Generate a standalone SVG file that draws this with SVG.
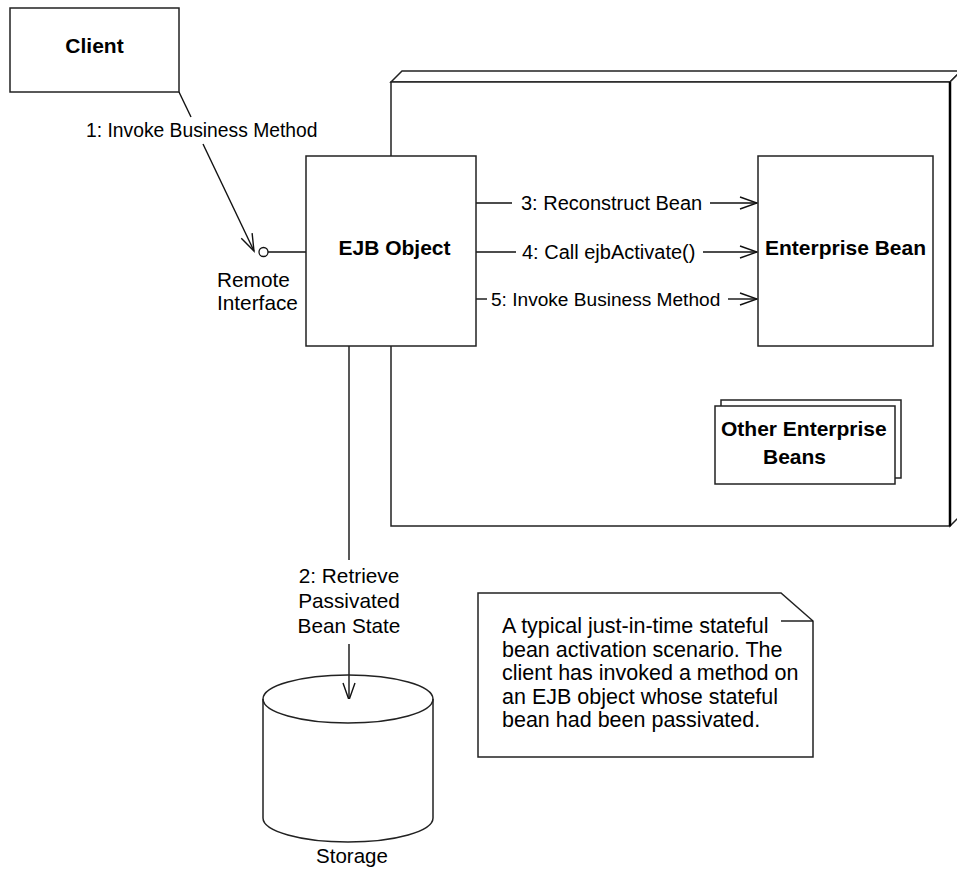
<svg xmlns="http://www.w3.org/2000/svg" width="957" height="869" viewBox="0 0 957 869">
<style>
.box{fill:#fff;stroke:#222;stroke-width:1.5}
.ln{fill:none;stroke:#111;stroke-width:1.4}
.b{font-family:"Liberation Sans",Arial,sans-serif;font-weight:bold;font-size:21px;fill:#000}
.t{font-family:"Liberation Sans",Arial,sans-serif;font-size:20px;fill:#000}
.n{font-family:"Liberation Sans",Arial,sans-serif;font-size:21.5px;fill:#000}
</style>
<defs>
<marker id="open" markerUnits="userSpaceOnUse" markerWidth="20" markerHeight="16" refX="18" refY="7" orient="auto">
<path d="M1,1 L18,7 L1,13" fill="none" stroke="#111" stroke-width="1.4"/>
</marker>
</defs>
<rect width="957" height="869" fill="#fff"/>

<g id="node-container">
<polygon class="box" points="391,82 402,71 961,71 950,82"/>
<polygon class="box" points="950,82 961,71 961,515 950,526"/>
<rect class="box" x="391" y="82" width="559" height="444"/>
<line x1="950" y1="82" x2="950" y2="526" stroke="#000" stroke-width="2.5"/>
</g>

<g id="node-client">
<rect class="box" x="10" y="8" width="169" height="84"/>
<text class="b" x="94.5" y="53" text-anchor="middle">Client</text>
</g>

<g id="connectors">
<polyline class="ln" points="179,92 191,117"/>
<line class="ln" x1="203" y1="144" x2="254" y2="251" marker-end="url(#open)"/>
<text class="t" x="86" y="137" style="font-size:19.3px">1: Invoke Business Method</text>
<line class="ln" x1="268" y1="252" x2="306" y2="252"/>
<circle cx="263.5" cy="252" r="4.5" fill="#fff" stroke="#111" stroke-width="1.3"/>
<text class="t" x="217" y="287" style="font-size:20.8px">Remote</text>
<text class="t" x="217" y="310" style="font-size:20.8px">Interface</text>

<line class="ln" x1="476" y1="203" x2="512" y2="203"/>
<text class="t" x="521" y="210">3: Reconstruct Bean</text>
<line class="ln" x1="710" y1="203" x2="757" y2="203" marker-end="url(#open)"/>

<line class="ln" x1="476" y1="252" x2="516" y2="252"/>
<text class="t" x="522" y="259">4: Call ejbActivate()</text>
<line class="ln" x1="703" y1="252" x2="757" y2="252" marker-end="url(#open)"/>

<line class="ln" x1="476" y1="299" x2="487" y2="299"/>
<text class="t" x="491" y="306" style="font-size:19.1px">5: Invoke Business Method</text>
<line class="ln" x1="728" y1="299" x2="757" y2="299" marker-end="url(#open)"/>

<line class="ln" x1="349" y1="346" x2="349" y2="560"/>
<text class="t" x="349" y="583" text-anchor="middle" style="font-size:20.8px">2: Retrieve</text>
<text class="t" x="349" y="608" text-anchor="middle" style="font-size:20.8px">Passivated</text>
<text class="t" x="349" y="633" text-anchor="middle" style="font-size:20.8px">Bean State</text>
<line class="ln" x1="349" y1="644" x2="349" y2="700" marker-end="url(#open)"/>
</g>

<g id="node-ejb-object">
<rect class="box" x="306" y="156" width="170" height="190"/>
<text class="b" x="394.5" y="255" text-anchor="middle">EJB Object</text>
</g>

<g id="node-enterprise-bean">
<rect class="box" x="758" y="156" width="175" height="190"/>
<text class="b" x="845.5" y="255" text-anchor="middle">Enterprise Bean</text>
</g>

<g id="node-other-beans">
<rect class="box" x="721" y="400" width="180" height="78"/>
<rect class="box" x="715" y="406" width="180" height="78"/>
<text class="b" x="721" y="436">Other Enterprise</text>
<text class="b" x="763" y="464">Beans</text>
</g>

<g id="node-storage">
<path class="box" d="M263,699 L263,818 A85,24 0 0 0 433,818 L433,699"/>
<ellipse class="box" cx="348" cy="699" rx="85" ry="24" fill="none" style="fill:none"/>
<text class="t" x="352" y="863" text-anchor="middle" style="font-size:20.5px">Storage</text>
</g>

<g id="node-note">
<path class="box" d="M478,593 L781,593 L813,621 L813,757 L478,757 Z"/>
<line class="ln" x1="781" y1="621" x2="813" y2="621"/>
<text class="n" x="502" y="633">A typical just-in-time stateful</text>
<text class="n" x="502" y="656.5">bean activation scenario. The</text>
<text class="n" x="502" y="680">client has invoked a method on</text>
<text class="n" x="502" y="703.5">an EJB object whose stateful</text>
<text class="n" x="502" y="727">bean had been passivated.</text>
</g>
</svg>
